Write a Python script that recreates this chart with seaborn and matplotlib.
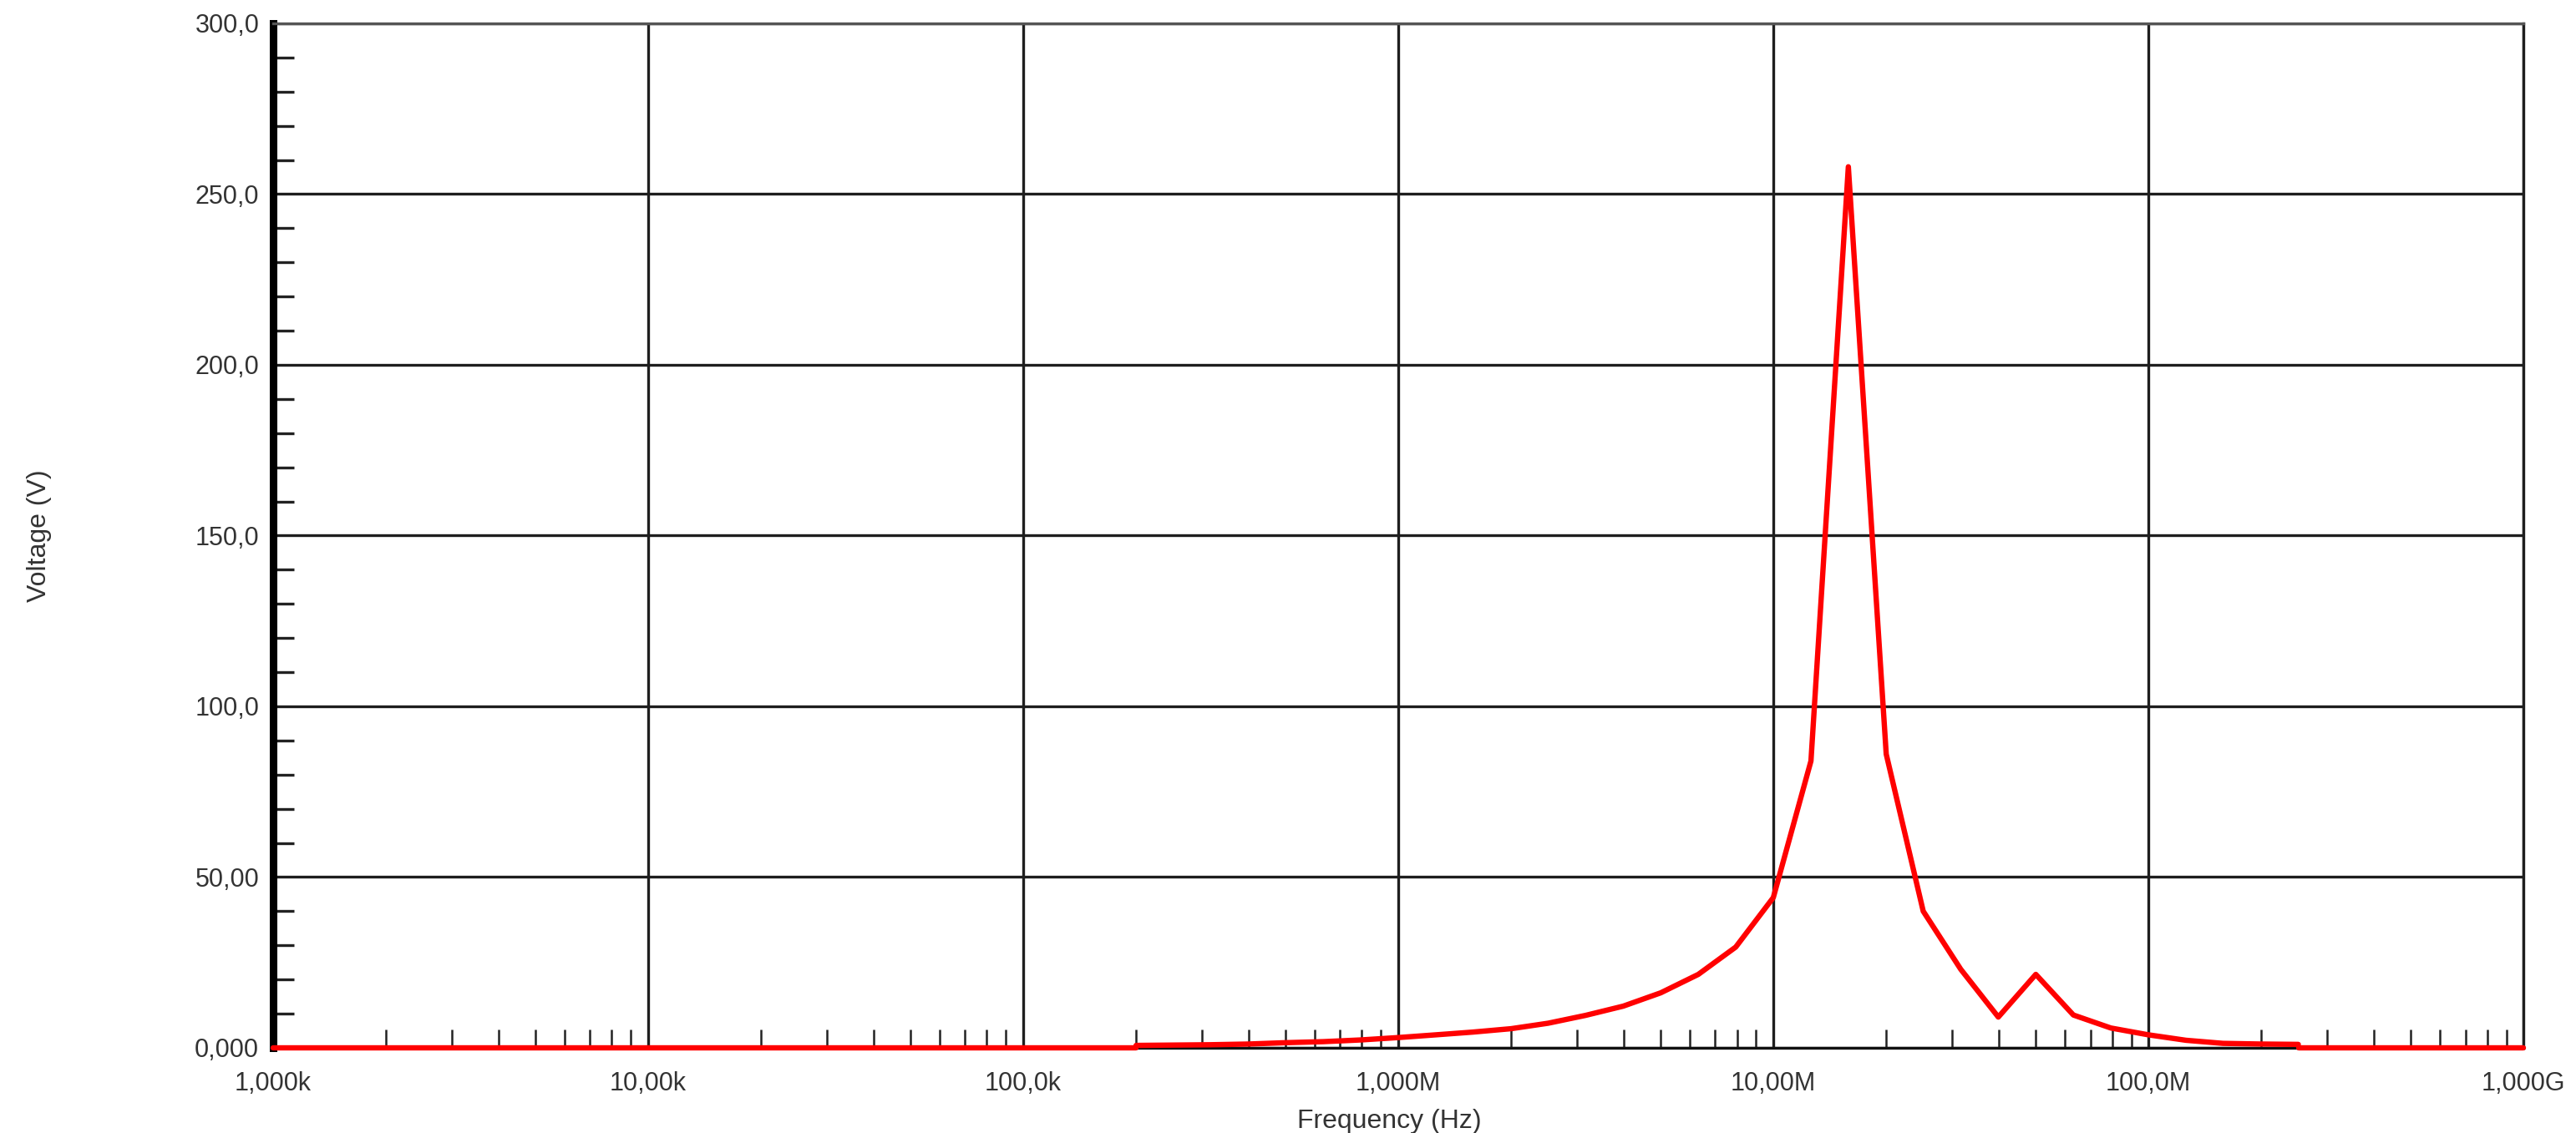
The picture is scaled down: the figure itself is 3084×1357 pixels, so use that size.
import matplotlib
matplotlib.use("Agg")
import matplotlib.pyplot as plt
from matplotlib.ticker import LogLocator, MultipleLocator, NullFormatter
import seaborn as sns
import pandas as pd

# frequency sweep (Hz) and voltage response (V)
freq_hz = [2.0e5, 2.51e5, 3.16e5, 3.98e5, 5.01e5, 6.31e5, 7.94e5,
           1.0e6, 1.26e6, 1.58e6, 2.0e6, 2.51e6, 3.16e6, 3.98e6, 5.01e6, 6.31e6, 7.94e6,
           1.0e7, 1.26e7, 1.585e7, 2.0e7, 2.51e7, 3.16e7, 3.98e7, 5.01e7, 6.31e7, 7.94e7,
           1.0e8, 1.26e8, 1.58e8, 2.0e8, 2.51e8]
voltage_v = [0.7, 0.8, 0.9, 1.1, 1.5, 1.8, 2.3,
             3.0, 3.8, 4.6, 5.6, 7.2, 9.5, 12.2, 16.1, 21.5, 29.5,
             44.0, 84.0, 258.0, 86.0, 40.0, 23.0, 9.0, 21.5, 9.6, 5.8,
             3.8, 2.2, 1.3, 1.1, 1.0]

# flat zero trace outside the sweep
zero_low_hz = [1.0e3, 2.0e5]
zero_high_hz = [2.51e8, 1.0e9]
zero_v = [0.0, 0.0]

x_ticks = [1e3, 1e4, 1e5, 1e6, 1e7, 1e8, 1e9]
x_labels = ["1,000k", "10,00k", "100,0k", "1,000M", "10,00M", "100,0M", "1,000G"]
y_ticks = [0, 50, 100, 150, 200, 250, 300]
y_labels = ["0,000", "50,00", "100,0", "150,0", "200,0", "250,0", "300,0"]

sns.set_theme(style="white")
plt.rcParams["font.family"] = ["Liberation Sans", "DejaVu Sans"]

fig = plt.figure(figsize=(30.84, 13.57), dpi=100)
ax = fig.add_axes([0.106, 0.0752, 0.8736, 0.9042])

main_df = pd.DataFrame({"Frequency": freq_hz, "Voltage": voltage_v})
sns.lineplot(data=main_df, x="Frequency", y="Voltage", color="#ff0000", linewidth=4.6,
             estimator=None, sort=False, ax=ax, zorder=4, clip_on=False)
for seg in (zero_low_hz, zero_high_hz):
    sns.lineplot(x=seg, y=zero_v, color="#ff0000", linewidth=4.6,
                 estimator=None, sort=False, ax=ax, zorder=4, clip_on=False)

ax.set_xscale("log")
ax.set_xlim(1e3, 1e9)
ax.set_ylim(0, 300)

ax.set_xticks(x_ticks)
ax.set_xticklabels(x_labels)
ax.xaxis.set_minor_locator(LogLocator(base=10, subs=[2, 3, 4, 5, 6, 7, 8, 9], numticks=20))
ax.xaxis.set_minor_formatter(NullFormatter())
ax.set_yticks(y_ticks)
ax.set_yticklabels(y_labels)
ax.yaxis.set_minor_locator(MultipleLocator(10))

ax.grid(True, which="major", color="#1e1e1e", linewidth=2.4)
ax.set_axisbelow(True)

ax.tick_params(axis="x", which="major", direction="out", length=12, width=2.2,
               color="#1e1e1e", pad=8, labelsize=22, labelcolor="#333333")
ax.tick_params(axis="x", which="minor", direction="in", length=16, width=1.8,
               color="#222222", bottom=True, top=False)
ax.tick_params(axis="y", which="major", length=0, pad=12, labelsize=22,
               labelcolor="#333333")
ax.tick_params(axis="y", which="minor", direction="in", length=18, width=2.4,
               color="#222222", left=True, right=False)

ax.spines["left"].set_linewidth(6.5)
ax.spines["left"].set_color("black")
ax.spines["bottom"].set_linewidth(2.4)
ax.spines["bottom"].set_color("#111111")
ax.spines["top"].set_linewidth(2.4)
ax.spines["top"].set_color("#555555")
ax.spines["right"].set_linewidth(2.4)
ax.spines["right"].set_color("#1e1e1e")

ax.set_xlabel("Frequency (Hz)", fontsize=23, color="#333333")
ax.set_ylabel("Voltage (V)", fontsize=23, color="#333333")
ax.xaxis.set_label_coords(0.496, -0.0595)
ax.yaxis.set_label_coords(-0.0984, 0.5)

fig.savefig("out.png", dpi=100)
